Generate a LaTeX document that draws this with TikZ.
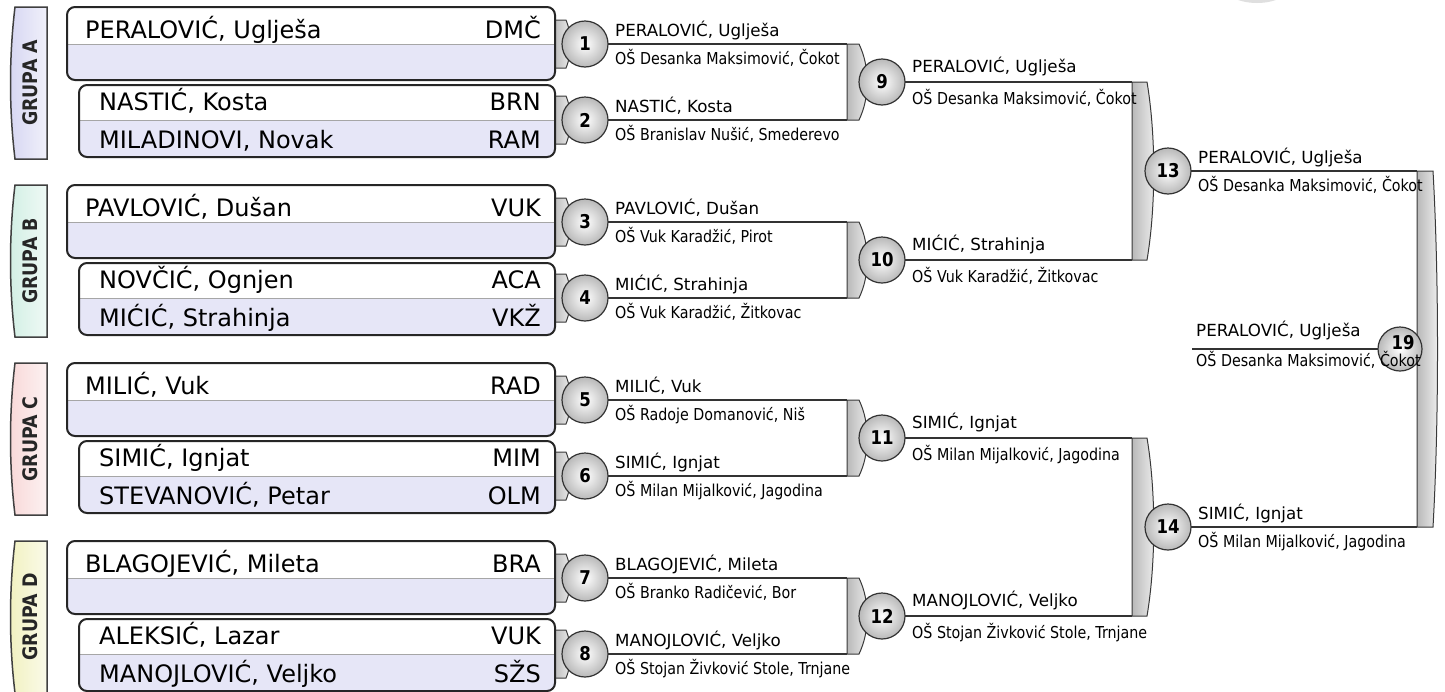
\documentclass[tikz,border=0pt]{standalone}
\usepackage{fontspec}
\setmainfont{DejaVu Sans}
\newfontfamily\condfont[FakeStretch=0.87]{DejaVu Sans}
\definecolor{lav}{HTML}{E6E6F7}
\definecolor{tabA}{HTML}{D6D6F2}
\definecolor{tabB}{HTML}{D2EFE4}
\definecolor{tabC}{HTML}{F8D8D8}
\definecolor{tabD}{HTML}{F1F1C0}
\pgfdeclarelayer{fg}
\pgfsetlayers{main,fg}
\newcommand\mybkt[5]{\path[brk] (#1,#2) -- ({#1+#4},#2) .. controls ({#1+#4+#5},{#2+0.3*((#3)-(#2))}) and ({#1+#4+#5},{#3-0.3*((#3)-(#2))}) .. ({#1+#4},#3) -- (#1,#3) -- cycle;}
\begin{document}
\begin{tikzpicture}[x=1pt,y=-1pt,
  line/.style={line width=2.5pt, draw=black!80},
  brk/.style={left color=gray!55, right color=gray!12, draw=gray!45!black, line width=1pt},
  rnd/.style={circle, minimum size=46pt, inner sep=0pt, inner color=white, outer color=gray!55, draw=gray!40!black, line width=1.2pt, font=\condfont\bfseries\fontsize{19}{19}\selectfont},
  nm/.style={anchor=base west, inner sep=0pt, font=\fontsize{16.7}{17}\selectfont},
  sch/.style={anchor=base west, inner sep=0pt, font=\condfont\fontsize{16.4}{17}\selectfont},
  big/.style={anchor=base west, inner sep=0pt, font=\fontsize{24}{25}\selectfont},
  code/.style={anchor=base east, inner sep=0pt, font=\fontsize{24}{25}\selectfont},
  grp/.style={rotate=90, font=\condfont\bfseries\fontsize{20}{20}\selectfont, text=black!85},
  boxline/.style={draw=black!85, line width=2pt},
]
\useasboundingbox (0,0) rectangle (1445,691);
\fill[white] (0,0) rectangle (1445,691);
% faint partial circle at top
\begin{scope}
\clip (1200,0) rectangle (1300,6);
\fill[gray!25] (1257,-20) ellipse (38 and 23);
\end{scope}

% ---- groups ----
\foreach \g/\lab/\col/\na/\ca/\nb/\cb/\nc/\cc in {
 0/A/tabA/{PERALOVIĆ, Uglješa}/DMČ/{NASTIĆ, Kosta}/BRN/{MILADINOVI, Novak}/RAM,
 1/B/tabB/{PAVLOVIĆ, Dušan}/VUK/{NOVČIĆ, Ognjen}/ACA/{MIĆIĆ, Strahinja}/VKŽ,
 2/C/tabC/{MILIĆ, Vuk}/RAD/{SIMIĆ, Ignjat}/MIM/{STEVANOVIĆ, Petar}/OLM,
 3/D/tabD/{BLAGOJEVIĆ, Mileta}/BRA/{ALEKSIĆ, Lazar}/VUK/{MANOJLOVIĆ, Veljko}/SŽS}
{
 \pgfmathsetmacro\t{7+178*\g}
 % group tab
 \path[draw=black!75, line width=1.5pt, left color=\col, right color=\col!35] (47,\t) -- (15,\t) .. controls (9,\t+50) and (9,\t+102) .. (15,\t+152) -- (47,\t+152) -- cycle;
 \node[grp] (grp\lab) at (30,\t+76) {GRUPA \lab};
 % grey connector tabs
 \mybkt{553}{\t+13}{\t+61}{13}{6}
 \mybkt{553}{\t+89}{\t+137}{13}{6}
 % box 1
 \begin{scope}
  \clip[rounded corners=8pt] (67,\t) rectangle (555,\t+73);
  \fill[lav] (67,\t) rectangle (555,\t+73);
  \fill[white] (67,\t) rectangle (555,\t+37);
 \end{scope}
 \draw[gray!70, line width=1pt] (67,\t+37) -- (555,\t+37);
 \draw[boxline, rounded corners=8pt] (67,\t) rectangle (555,\t+73);
 % box 2
 \begin{scope}
  \clip[rounded corners=8pt] (79,\t+78) rectangle (555,\t+150);
  \fill[lav] (79,\t+78) rectangle (555,\t+150);
  \fill[white] (79,\t+78) rectangle (555,\t+113);
 \end{scope}
 \draw[gray!70, line width=1pt] (79,\t+113) -- (555,\t+113);
 \draw[boxline, rounded corners=8pt] (79,\t+78) rectangle (555,\t+150);
 % texts
 \node[big] (na\g) at (85,\t+31) {\na};
 \node[code] (ca\g) at (541,\t+31) {\ca};
 \node[big] (nb\g) at (99,\t+103) {\nb};
 \node[code] (cb\g) at (541,\t+103) {\cb};
 \node[big] (nc\g) at (99,\t+141) {\nc};
 \node[code] (cc\g) at (541,\t+141) {\cc};
}

% ---- round 1 ----
\foreach \i/\y/\n/\s in {
 1/44/{PERALOVIĆ, Uglješa}/{OŠ Desanka Maksimović, Čokot},
 2/120/{NASTIĆ, Kosta}/{OŠ Branislav Nušić, Smederevo},
 3/222/{PAVLOVIĆ, Dušan}/{OŠ Vuk Karadžić, Pirot},
 4/298/{MIĆIĆ, Strahinja}/{OŠ Vuk Karadžić, Žitkovac},
 5/400/{MILIĆ, Vuk}/{OŠ Radoje Domanović, Niš},
 6/476/{SIMIĆ, Ignjat}/{OŠ Milan Mijalković, Jagodina},
 7/578/{BLAGOJEVIĆ, Mileta}/{OŠ Branko Radičević, Bor},
 8/654/{MANOJLOVIĆ, Veljko}/{OŠ Stojan Živković Stole, Trnjane}}
{
 \coordinate (p\i) at (585,\y);
 \coordinate (e\i) at (847,\y);
 \draw[line] (p\i) -- (e\i);
 \node[rnd] (c\i) at (p\i) {\i};
 \begin{pgfonlayer}{fg}
 \node[nm] (wn\i) at (615,\y-8) {\n};
 \node[sch] (ws\i) at (615,\y+20) {\s};
 \end{pgfonlayer}
}

% ---- round 2 ----
\foreach \i/\ya/\yb/\n/\s in {
 9/44/120/{PERALOVIĆ, Uglješa}/{OŠ Desanka Maksimović, Čokot},
 10/222/298/{MIĆIĆ, Strahinja}/{OŠ Vuk Karadžić, Žitkovac},
 11/400/476/{SIMIĆ, Ignjat}/{OŠ Milan Mijalković, Jagodina},
 12/578/654/{MANOJLOVIĆ, Veljko}/{OŠ Stojan Živković Stole, Trnjane}}
{
 \pgfmathsetmacro\y{(\ya+\yb)/2}
 \coordinate (p\i) at (882,\y);
 \coordinate (e\i) at (1132,\y);
 \draw[line] (p\i) -- (e\i);
 \mybkt{847}{\ya}{\yb}{12}{11}
 \node[rnd] (c\i) at (p\i) {\i};
 \begin{pgfonlayer}{fg}
 \node[nm] (wn\i) at (912,\y-10) {\n};
 \node[sch] (ws\i) at (912,\y+22) {\s};
 \end{pgfonlayer}
}

% ---- round 3 ----
\foreach \i/\ya/\yb/\n/\s in {
 13/82/260/{PERALOVIĆ, Uglješa}/{OŠ Desanka Maksimović, Čokot},
 14/438/616/{SIMIĆ, Ignjat}/{OŠ Milan Mijalković, Jagodina}}
{
 \pgfmathsetmacro\y{(\ya+\yb)/2}
 \coordinate (p\i) at (1168,\y);
 \coordinate (e\i) at (1417,\y);
 \draw[line] (p\i) -- (e\i);
 \mybkt{1132}{\ya}{\yb}{15}{9}
 \node[rnd] (c\i) at (p\i) {\i};
 \begin{pgfonlayer}{fg}
 \node[nm] (wn\i) at (1198,\y-8) {\n};
 \node[sch] (ws\i) at (1198,\y+20) {\s};
 \end{pgfonlayer}
}

% ---- final ----
\mybkt{1417}{171}{527}{16}{6}
\coordinate (f0) at (1192,349);
\coordinate (p19) at (1400,349);
\draw[line] (f0) -- (p19);
\node[rnd, minimum size=44pt] (c19) at (p19) {};
\begin{pgfonlayer}{fg}
\node[inner sep=0pt, font=\condfont\bfseries\fontsize{19}{19}\selectfont] (n19) at ([shift={(3,-6)}]c19.center) {19};
\node[nm] (wn19) at (1196,336) {PERALOVIĆ, Uglješa};
\node[sch] (ws19) at (1196,366) {OŠ Desanka Maksimović, Čokot};
\end{pgfonlayer}
\end{tikzpicture}
\end{document}
